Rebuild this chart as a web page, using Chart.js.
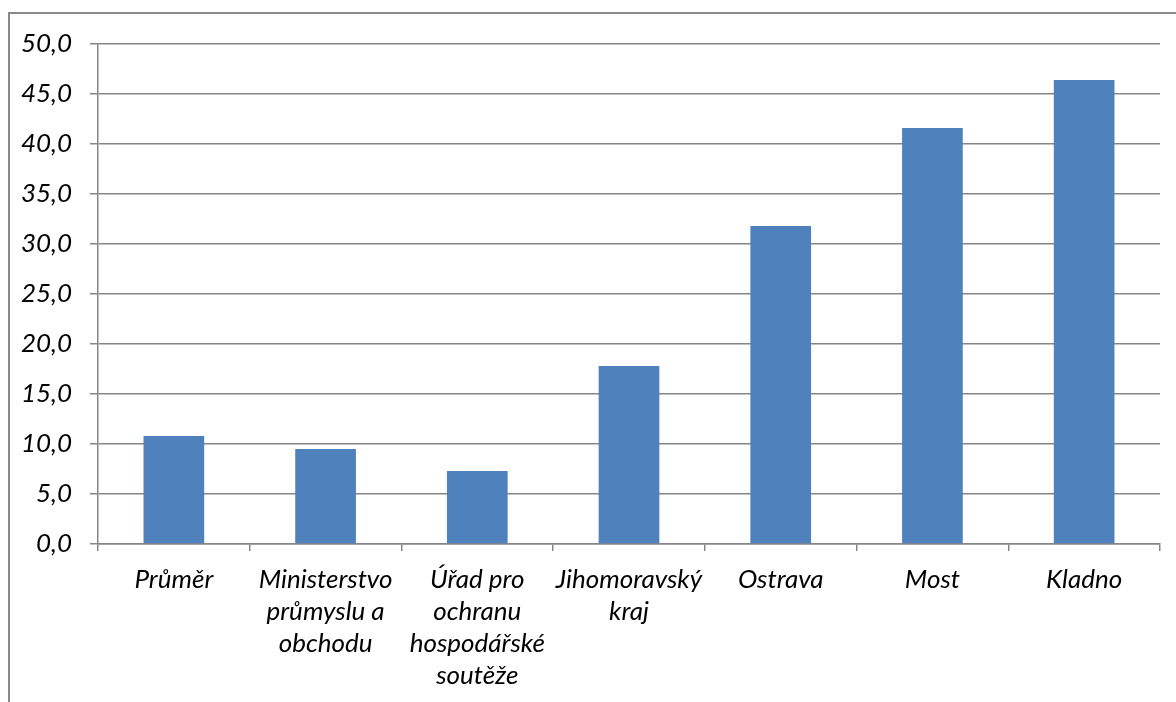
<!DOCTYPE html>
<html>
<head>
<meta charset="utf-8">
<script src="https://cdn.jsdelivr.net/npm/chart.js@4"></script>
<style>
  html, body { margin: 0; padding: 0; background: #fff; }
  #wrap { position: relative; width: 1176px; height: 702px; }
  #frame { position: absolute; left: 8px; top: 12px; right: 0; bottom: 0;
           border-top: 2px solid #8a8a8a; border-left: 2px solid #8a8a8a; }
  canvas { position: absolute; left: 0; top: 0; }
</style>
</head>
<body>
<div id="wrap">
  <div id="frame"></div>
  <canvas id="chart" width="1176" height="702"></canvas>
</div>
<script>
const categories = [
  'Průměr',
  ['Ministerstvo', 'průmyslu a', 'obchodu'],
  ['Úřad pro', 'ochranu', 'hospodářské', 'soutěže'],
  ['Jihomoravský', 'kraj'],
  'Ostrava',
  'Most',
  'Kladno'
];
const values = [10.8, 9.5, 7.3, 17.8, 31.8, 41.6, 46.4];
const yTicks = { min: 0, max: 50, step: 5 };

const labelFont = { family: 'Lato', style: 'italic', size: 26, lineHeight: 1.24 };
const gridColor = '#868686';

new Chart(document.getElementById('chart'), {
  type: 'bar',
  data: {
    labels: categories,
    datasets: [{
      data: values,
      backgroundColor: '#4F81BD',
      borderWidth: 0,
      barPercentage: 0.4,
      categoryPercentage: 1.0
    }]
  },
  options: {
    responsive: false,
    animation: false,
    layout: { padding: { left: 0, right: 16, top: 44, bottom: 0 } },
    plugins: { legend: { display: false }, tooltip: { enabled: false } },
    scales: {
      y: {
        min: yTicks.min,
        max: yTicks.max,
        ticks: {
          stepSize: yTicks.step,
          color: '#000',
          font: { family: 'Lato', style: 'italic', size: 26 },
          padding: 18,
          callback: v => v.toFixed(1).replace('.', ',')
        },
        grid: { color: gridColor, lineWidth: 1.5, tickLength: 8 },
        border: { color: gridColor, width: 1.5 },
        afterFit: s => { s.width = 98; }
      },
      x: {
        ticks: {
          color: '#000',
          font: labelFont,
          maxRotation: 0,
          autoSkip: false,
          padding: 12
        },
        grid: { drawOnChartArea: false, color: gridColor, lineWidth: 1.5, tickLength: 7 },
        border: { color: gridColor, width: 1.5 },
        afterFit: s => { s.height = 702 - 544; }
      }
    }
  }
});
</script>
</body>
</html>
